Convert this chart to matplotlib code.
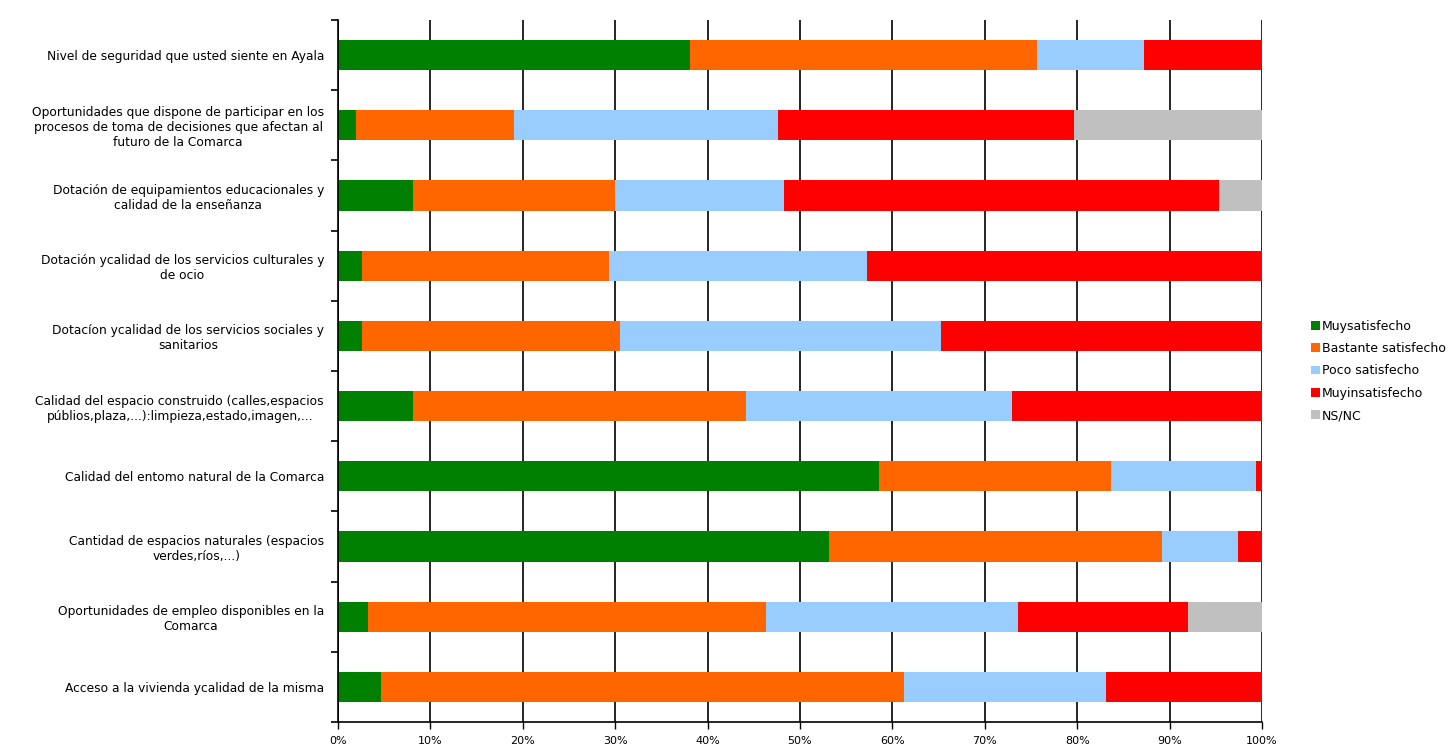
import matplotlib
matplotlib.use("Agg")
import matplotlib.pyplot as plt
from matplotlib.patches import Patch
import numpy as np

categories = [
    "Nivel de seguridad que usted siente en Ayala",
    "Oportunidades que dispone de participar en los\nprocesos de toma de decisiones que afectan al\nfuturo de la Comarca",
    "Dotación de equipamientos educacionales y\ncalidad de la enseñanza",
    "Dotación ycalidad de los servicios culturales y\nde ocio",
    "Dotacíon ycalidad de los servicios sociales y\nsanitarios",
    "Calidad del espacio construido (calles,espacios\npúblios,plaza,...):limpieza,estado,imagen,...",
    "Calidad del entomo natural de la Comarca",
    "Cantidad de espacios naturales (espacios\nverdes,ríos,...)",
    "Oportunidades de empleo disponibles en la\nComarca",
    "Acceso a la vivienda ycalidad de la misma",
]

series_names = ["Muysatisfecho", "Bastante satisfecho", "Poco satisfecho", "Muyinsatisfecho", "NS/NC"]

muy_satisfecho      = [38.1,  1.9,  8.1,  2.6,  2.6,  8.1, 58.6, 53.1,  3.3,  4.7]
bastante_satisfecho = [37.5, 17.1, 21.9, 26.7, 27.9, 36.1, 25.1, 36.1, 43.0, 56.6]
poco_satisfecho     = [11.6, 28.6, 18.3, 27.9, 34.8, 28.7, 15.7,  8.2, 27.3, 21.8]
muy_insatisfecho    = [12.8, 32.1, 47.1, 42.8, 34.7, 27.1,  0.6,  2.6, 18.4, 16.9]
ns_nc               = [ 0.0, 20.3,  4.6,  0.0,  0.0,  0.0,  0.0,  0.0,  8.0,  0.0]

x_ticks = [0, 10, 20, 30, 40, 50, 60, 70, 80, 90, 100]
x_tick_labels = ["0%", "10%", "20%", "30%", "40%", "50%", "60%", "70%", "80%", "90%", "100%"]

colors = ["#008000", "#FF6600", "#99CCFF", "#FF0000", "#C0C0C0"]

plt.rcParams['font.family'] = ['DejaVu Sans']

fig = plt.figure(figsize=(14.55, 7.5), dpi=100)
ax = fig.add_axes([338/1455, 1 - 722/750, (1262 - 338)/1455, (722 - 20)/750])

data = [muy_satisfecho, bastante_satisfecho, poco_satisfecho, muy_insatisfecho, ns_nc]
y = np.arange(len(categories))
left = np.zeros(len(categories))
for vals, col, name in zip(data, colors, series_names):
    vals = np.array(vals)
    ax.barh(y, vals, left=left, height=0.43, color=col, label=name, zorder=2)
    left += vals

ax.set_xlim(0, 100)
ax.set_ylim(len(categories) - 0.5, -0.5)

ax.set_xticks(x_ticks)
ax.set_xticklabels(x_tick_labels, fontsize=8)
ax.xaxis.grid(True, color="black", linewidth=1.2, zorder=1)
ax.set_axisbelow(True)
ax.tick_params(axis='x', length=5, width=1, direction='out', pad=5)

ax.set_yticks(np.arange(-0.5, len(categories)), minor=False)
ax.set_yticklabels([])
ax.set_yticks(y, minor=True)
ax.set_yticklabels(categories, minor=True, fontsize=8.8, multialignment='center')
ax.tick_params(axis='y', which='major', length=5, width=1.2, direction='out')
ax.tick_params(axis='y', which='minor', length=0, pad=10)

for s in ['top', 'right']:
    ax.spines[s].set_visible(False)
ax.spines['left'].set_linewidth(1.2)
ax.spines['bottom'].set_linewidth(1.2)

handles = [Patch(facecolor=c, edgecolor='none') for c in colors]
fig.legend(handles, series_names, loc='center left',
           bbox_to_anchor=(1311/1455, 1 - 371/750), frameon=False,
           fontsize=9, handlelength=0.7, handleheight=0.7,
           handletextpad=0.15, labelspacing=0.75, borderpad=0, borderaxespad=0)

fig.savefig("out.png", dpi=100, facecolor="white")
